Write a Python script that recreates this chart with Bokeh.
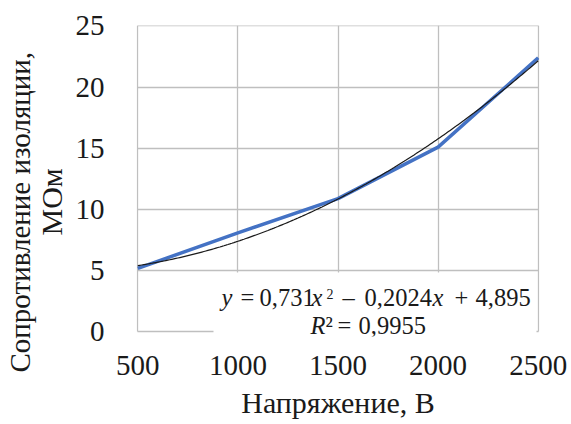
import numpy as np
from bokeh.plotting import figure
from bokeh.models import Label, BoxAnnotation, FixedTicker, Range1d, Title
from bokeh.embed import file_html
from bokeh.resources import INLINE

# ---- data ----
voltage = [500, 1000, 1500, 2000, 2500]
resistance = [5.2, 8.1, 10.9, 15.1, 22.4]
# trend line shown on the chart: y = 0.731 n^2 - 0.2024 n + 4.895  (n = point number 1..5)
trend_coef = [0.731, -0.2024, 4.895]
x_ticks = [500, 1000, 1500, 2000, 2500]
y_ticks = [0, 5, 10, 15, 20, 25]

FONT = "Liberation Serif"
INK = "#1a1a1a"
W, H = 571, 424
L, R, T, B = 136, 32, 25, 88
X0, X1 = 493.5, 2506.5
Y0, Y1 = -0.368, 25.04

p = figure(width=W, height=H, output_backend="svg", toolbar_location=None,
           x_range=Range1d(X0, X1), y_range=Range1d(Y0, Y1),
           min_border_left=L, min_border_right=R, min_border_top=T, min_border_bottom=B)
p.outline_line_color = None
p.background_fill_color = "white"
p.border_fill_color = "white"

# grid
for g in (p.xgrid, p.ygrid):
    g.grid_line_color = "#bfbfbf"
    g.grid_line_width = 1.3
p.xgrid.ticker = FixedTicker(ticks=x_ticks)
p.ygrid.ticker = FixedTicker(ticks=y_ticks)
try:
    p.xgrid.cross_bounds = (0, 25)
    p.ygrid.cross_bounds = (500, 2500)
except Exception:
    pass

# axes
for ax in (p.xaxis, p.yaxis):
    ax.axis_line_color = None
    ax.major_tick_line_color = None
    ax.minor_tick_line_color = None
    ax.major_label_text_font = FONT
    ax.major_label_text_font_size = "29px"
    ax.major_label_text_color = INK
p.xaxis.ticker = FixedTicker(ticks=x_ticks)
p.yaxis.ticker = FixedTicker(ticks=y_ticks)
p.yaxis.major_label_standoff = 26
p.xaxis.major_label_standoff = 13
p.xaxis.axis_label = "Напряжение, В"
p.xaxis.axis_label_text_font = FONT
p.xaxis.axis_label_text_font_size = "30px"
p.xaxis.axis_label_text_font_style = "normal"
p.xaxis.axis_label_text_color = INK
p.xaxis.axis_label_standoff = 8

# y axis title, two lines (inner line first)
for txt, size, so, off in (("МОм", "30px", 10, 101),
                           ("Сопротивление изоляции,", "29px", -16, -36)):
    p.add_layout(Title(text=txt, align="left", offset=off, standoff=so,
                       text_font=FONT, text_font_size=size, text_font_style="normal",
                       text_color=INK), "left")

# data line and trend line
p.line(voltage, resistance, line_color="#4472c4", line_width=3.5)
n = np.arange(1, 5.0001, 0.02)
p.line(500 + (n - 1) * 500, np.polyval(trend_coef, n), line_color=INK, line_width=1.2)

# helpers: pixel position -> data coordinates (for annotation placement)
fw = W - L - R
fh = H - T - B
def dx(px):
    return X0 + (px - L) * (X1 - X0) / fw
def dy(py):
    return Y0 + (H - B - py) * (Y1 - Y0) / fh

# white box behind equation
p.add_layout(BoxAnnotation(left=dx(213), right=dx(536), top=dy(272), bottom=dy(334),
                           fill_color="white", fill_alpha=1, line_color=None))

def lab(text, px, py, size="24.5px", style="normal"):
    p.add_layout(Label(x=dx(px), y=dy(py), text=text, text_font=FONT, text_font_size=size,
                       text_font_style=style, text_color=INK,
                       text_align="left", text_baseline="alphabetic"))

# equation line 1: y = 0,731x² – 0,2024x + 4,895
B1 = 296.5
lab("y", 221, B1, style="italic")
lab("=", 240, B1)
lab("0,731", 259, B1)
lab("x", 311, B1, style="italic")
lab("2", 326, 293.5, size="14px")
lab("–", 342, B1)
lab("0,2024", 364, B1)
lab("x", 432, B1, style="italic")
lab("+", 454, B1)
lab("4,895", 475, B1)
# equation line 2: R² = 0,9955
B2 = 324.5
lab("R", 310, B2, style="italic")
lab("²", 325, B2)
lab("=", 337, B2)
lab("0,9955", 358, B2)

open("out.html", "w").write(file_html(p, INLINE))
